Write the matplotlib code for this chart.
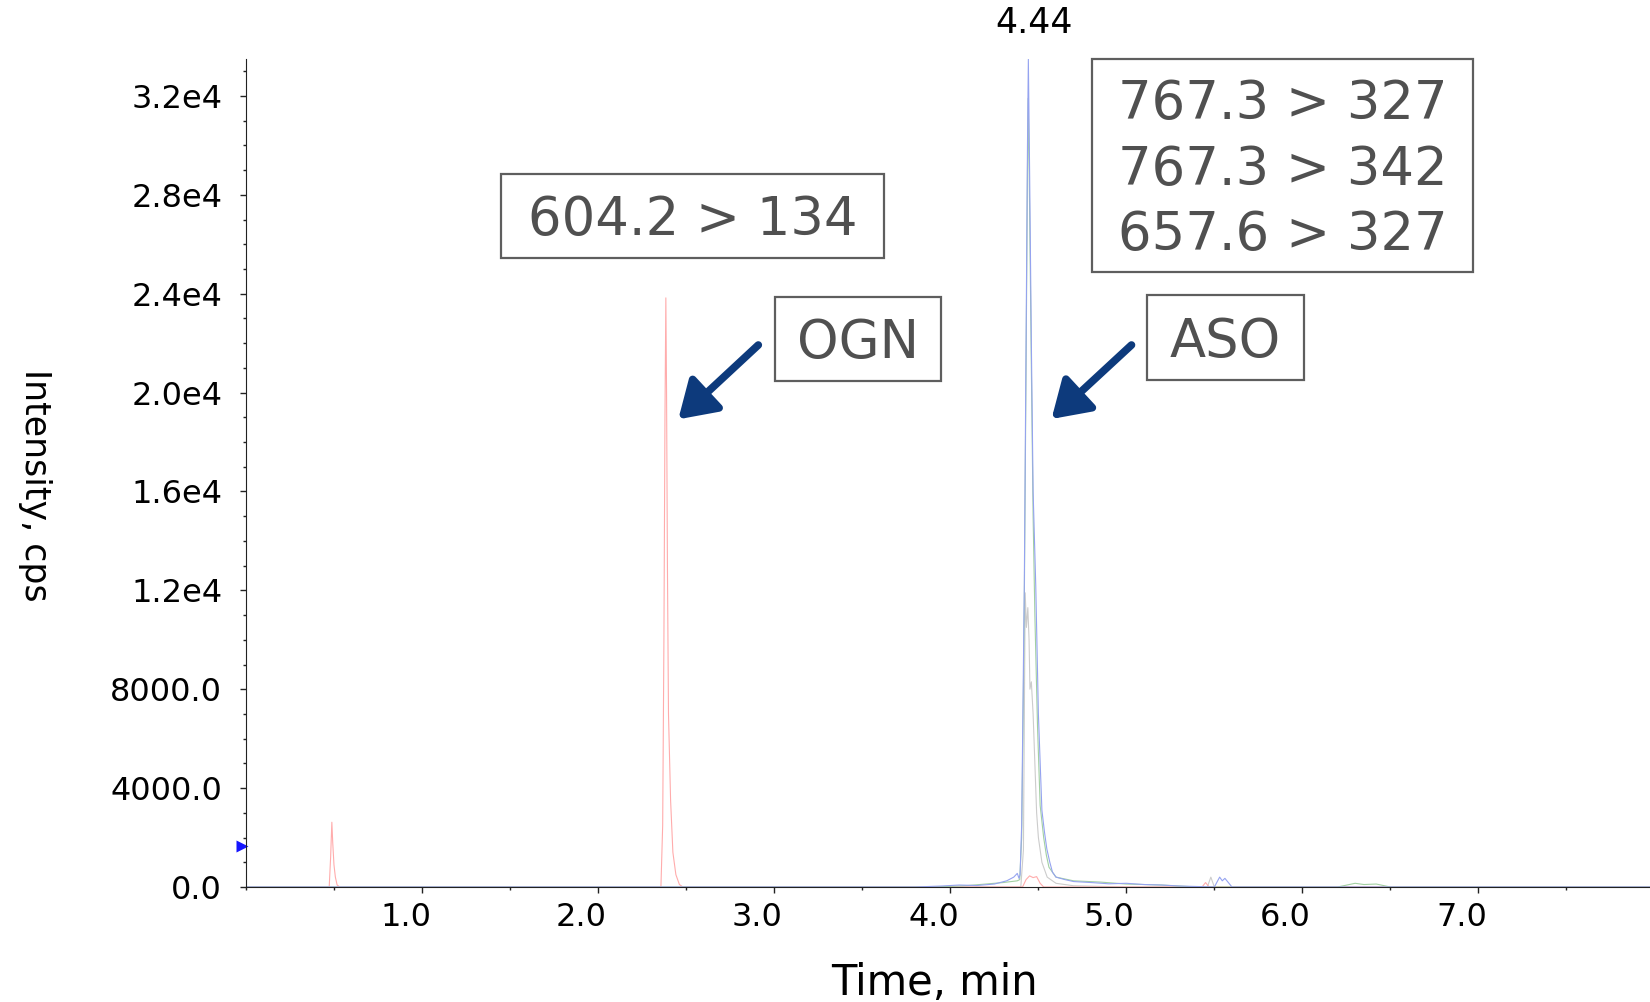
import numpy as np
import matplotlib
matplotlib.use('Agg')
import matplotlib.pyplot as plt
import matplotlib.transforms as mtransforms
from matplotlib.patches import Rectangle
from matplotlib.ticker import FixedLocator, MultipleLocator

plt.rcParams['font.family'] = ['DejaVu Sans']

# traces (time in min, intensity in cps)
red_t = [0.0, 0.30, 0.47, 0.478, 0.485, 0.490, 0.497, 0.505, 0.515, 0.53, 1.20,
         2.355, 2.365, 2.372, 2.378, 2.383, 2.387, 2.392, 2.398, 2.41, 2.423, 2.44, 2.46, 2.48,
         4.00, 4.41, 4.43, 4.45, 4.47, 4.49, 4.51, 4.53, 5.43, 5.45, 5.47, 7.00, 7.98]
red_i = [0, 0, 0, 1200, 2620, 1800, 900, 400, 80, 0, 0,
         0, 2500, 10000, 19000, 23830, 20000, 13000, 7000, 3500, 1400, 500, 100, 0,
         0, 0, 300, 450, 380, 420, 150, 0, 0, 180, 0, 0, 0]

blue_t = [0.0, 3.80, 3.95, 4.05, 4.15, 4.25, 4.32, 4.36, 4.38, 4.39, 4.396, 4.405, 4.415,
          4.42, 4.43, 4.438, 4.443, 4.45, 4.46, 4.47, 4.485, 4.50, 4.52, 4.535, 4.548, 4.565,
          4.58, 4.60, 4.65, 4.70, 4.80, 4.90, 5.00, 5.10, 5.20, 5.30, 5.50, 5.53, 5.545, 5.56,
          5.60, 6.00, 7.98]
blue_i = [0, 0, 40, 80, 60, 120, 250, 400, 550, 350, 500, 2500, 9000,
          12200, 22000, 30000, 33480, 29000, 22000, 16000, 12200, 7000, 3100, 2200, 1540, 1000,
          600, 400, 300, 220, 180, 130, 150, 100, 80, 40, 0, 400, 250, 350,
          0, 0, 0]

green_t = [0.0, 3.90, 4.10, 4.30, 4.38, 4.394, 4.405, 4.415, 4.42, 4.43, 4.438, 4.442,
           4.45, 4.46, 4.47, 4.48, 4.495, 4.51, 4.53, 4.545, 4.56, 4.60, 4.70, 4.85, 5.00,
           5.20, 5.40, 6.20, 6.30, 6.35, 6.42, 6.50, 7.98]
green_i = [0, 0, 60, 180, 250, 300, 2000, 8000, 11500, 21000, 29000, 31900,
           27500, 21000, 15000, 11000, 6500, 3300, 2000, 1300, 800, 400, 250, 200, 120,
           80, 0, 0, 150, 100, 120, 0, 0]

gray_t = [0.0, 4.30, 4.40, 4.415, 4.425, 4.432, 4.44, 4.447, 4.452, 4.46, 4.47, 4.48,
          4.49, 4.50, 4.52, 4.55, 4.60, 4.70, 5.00, 5.46, 5.48, 5.50, 7.98]
gray_i = [0, 0, 0, 1500, 11900, 10500, 11300, 10000, 8000, 8300, 7000, 5000,
          3000, 2000, 1000, 400, 150, 50, 0, 0, 400, 0, 0]

x_ticks = [1, 2, 3, 4, 5, 6, 7]
x_tick_labels = ['1.0', '2.0', '3.0', '4.0', '5.0', '6.0', '7.0']
y_ticks = [0, 4000, 8000, 12000, 16000, 20000, 24000, 28000, 32000]
y_tick_labels = ['0.0', '4000.0', '8000.0', '1.2e4', '1.6e4', '2.0e4', '2.4e4', '2.8e4', '3.2e4']

apex_time = 4.443
apex_label = '4.44'
box_single = '604.2 > 134'
box_multi = '767.3 > 327\n767.3 > 342\n657.6 > 327'

W, H = 1650, 1002
fig = plt.figure(figsize=(W / 100, H / 100), dpi=100)
ax = fig.add_axes([246.5 / W, 1 - 887 / H, (W - 246.5) / W, (887 - 59.3) / H])

ax.plot(gray_t, gray_i, color='#cccccc', lw=0.8)
ax.plot(red_t, red_i, color='#ffacac', lw=0.8)
ax.plot(green_t, green_i, color='#a2d0a2', lw=0.8)
ax.plot(blue_t, blue_i, color='#95a3f0', lw=0.8)

ax.set_xlim(0, (W - 246.3) / 176)
ax.set_ylim(0, 33480)
for s in ['top', 'right']:
    ax.spines[s].set_visible(False)
ax.spines['left'].set_color('#222222')
ax.spines['bottom'].set_color('#222222')

ax.xaxis.set_major_locator(FixedLocator(x_ticks))
ax.set_xticklabels(x_tick_labels)
ax.xaxis.set_minor_locator(MultipleLocator(0.5))
ax.yaxis.set_major_locator(FixedLocator(y_ticks))
ax.set_yticklabels(y_tick_labels)
ax.yaxis.set_minor_locator(MultipleLocator(1000))
ax.tick_params(which='major', length=4.5, width=1, labelsize=23, color='#222222')
ax.tick_params(which='minor', length=2.5, width=1, color='#222222')
ax.tick_params(axis='y', pad=13)
ax.tick_params(axis='x', pad=6)

# x tick labels sit a bit left of their ticks in the original
shift = mtransforms.ScaledTranslation(-17 / 100, 0, fig.dpi_scale_trans)
for lab in ax.get_xticklabels():
    lab.set_transform(lab.get_transform() + shift)

# retention time of apex
ax.annotate(apex_label, xy=(apex_time, 33480), xytext=(4, 19), textcoords='offset points',
            ha='center', va='baseline', fontsize=25)

# little blue marker at the y axis
ax.plot([-0.025], [1660], marker='>', color='#1515ff', ms=9, clip_on=False, mec='none')

fig.text(934 / W, 1 - 995 / H, 'Time, min', fontsize=30, ha='center', va='baseline')
fig.text(35 / W, 1 - 485 / H, 'Intensity, cps', fontsize=25, rotation=270, ha='center', va='center')


def box(x0, y0, x1, y1, text):
    fig.patches.append(Rectangle((x0 / W, 1 - y1 / H), (x1 - x0) / W, (y1 - y0) / H,
                                 transform=fig.transFigure, fill=False, ec='#5e5e5e', lw=1.6))
    fig.text((x0 + x1) / 2 / W, 1 - ((y0 + y1) / 2 + 4) / H, text, fontsize=38, color='#505050',
             ha='center', va='center', linespacing=1.33)


box(501, 174, 884, 258, box_single)
box(774.5, 297, 941, 381, 'OGN')
box(1147, 295, 1304, 380, 'ASO')
box(1091.7, 59.3, 1473.3, 271.7, box_multi)

arrow = dict(arrowstyle='-|>,head_length=1.1,head_width=0.7', color='#0d3a7c', lw=5.5,
             shrinkA=0, shrinkB=0, mutation_scale=20)
ax.annotate('', xy=(678.3, H - 419.3), xytext=(758.3, H - 345), xycoords='figure pixels',
            textcoords='figure pixels', arrowprops=arrow)
ax.annotate('', xy=(1051.5, H - 419), xytext=(1131.5, H - 345), xycoords='figure pixels',
            textcoords='figure pixels', arrowprops=arrow)

fig.savefig('out.png', dpi=100)
